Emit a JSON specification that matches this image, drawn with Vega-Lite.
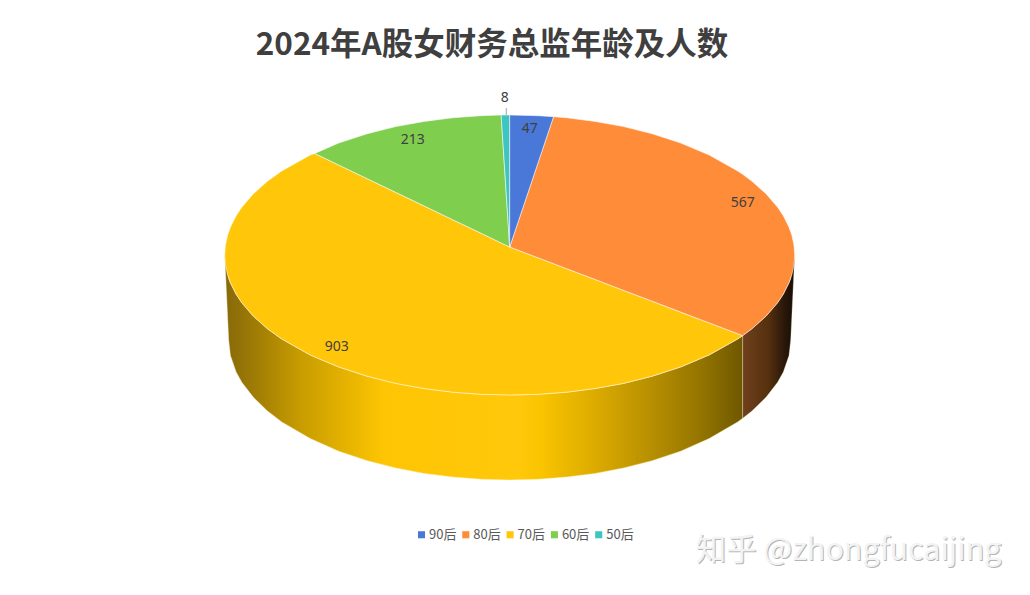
{
"$schema":"https://vega.github.io/schema/vega-lite/v6.json",
"width":1030,"height":595,"padding":0,"autosize":{"type":"none"},
"background":"#ffffff",
"config":{"view":{"stroke":null}},
"title":{"text":"2024年A股女财务总监年龄及人数","font":"Noto Sans CJK SC","fontSize":31.5,"fontWeight":"bold","color":"#3f3f3f","anchor":"middle","frame":"group","dx":-23,"offset":-77,"baseline":"middle"},
"datasets":{
"wallYellow":[{"x":-100,"y":0,"y2":0},{"x":-98.6,"y":-16.7,"y2":-60.7},{"x":-98,"y":-19.9,"y2":-71.7},{"x":-96,"y":-28,"y2":-83.5},{"x":-94,"y":-34.1,"y2":-90.9},{"x":-90,"y":-43.6,"y2":-101.5},{"x":-85,"y":-52.7,"y2":-111.4},{"x":-80,"y":-60,"y2":-119.2},{"x":-70,"y":-71.4,"y2":-131.1},{"x":-60,"y":-80,"y2":-140.1},{"x":-50,"y":-86.6,"y2":-146.9},{"x":-40,"y":-91.7,"y2":-152.1},{"x":-30,"y":-95.4,"y2":-156},{"x":-20,"y":-98,"y2":-158.6},{"x":-10,"y":-99.5,"y2":-160.2},{"x":0,"y":-100,"y2":-160.7},{"x":10,"y":-99.5,"y2":-160.2},{"x":20,"y":-98,"y2":-158.6},{"x":30,"y":-95.4,"y2":-156},{"x":40,"y":-91.7,"y2":-152.1},{"x":50,"y":-86.6,"y2":-146.9},{"x":60,"y":-80,"y2":-140.1},{"x":70,"y":-71.4,"y2":-131.1},{"x":80,"y":-60,"y2":-119.2},{"x":81.75,"y":-57.6,"y2":-116.6}],
"wallOrange":[{"x":81.75,"y":-57.6,"y2":-116.6},{"x":85,"y":-52.7,"y2":-111.4},{"x":90,"y":-43.6,"y2":-101.5},{"x":94,"y":-34.1,"y2":-90.9},{"x":96,"y":-28,"y2":-83.5},{"x":98,"y":-19.9,"y2":-71.7},{"x":98.6,"y":-16.7,"y2":-60.7},{"x":100,"y":0,"y2":0}],
"slices":[
{"age":"70后","x":-100,"y":0,"y2":0},{"age":"70后","x":-99.75,"y":7.06,"y2":-7.06},{"age":"70后","x":-99,"y":14.1,"y2":-14.1},{"age":"70后","x":-98,"y":19.9,"y2":-19.9},{"age":"70后","x":-96,"y":28,"y2":-28},{"age":"70后","x":-94,"y":34.1,"y2":-34.1},{"age":"70后","x":-90,"y":43.6,"y2":-43.6},{"age":"70后","x":-85,"y":52.7,"y2":-52.7},{"age":"70后","x":-80,"y":60,"y2":-60},{"age":"70后","x":-70,"y":71.4,"y2":-71.4},{"age":"70后","x":-68.4,"y":72.5,"y2":-72.9},{"age":"70后","x":-60,"y":64.3,"y2":-80},{"age":"70后","x":-50,"y":54.5,"y2":-86.6},{"age":"70后","x":-40,"y":44.76,"y2":-91.7},{"age":"70后","x":-30,"y":35,"y2":-95.4},{"age":"70后","x":-20,"y":25.2,"y2":-98},{"age":"70后","x":-10,"y":15.5,"y2":-99.5},{"age":"70后","x":0,"y":5.7,"y2":-100},{"age":"70后","x":10,"y":-2.04,"y2":-99.5},{"age":"70后","x":20,"y":-9.8,"y2":-98},{"age":"70后","x":30,"y":-17.5,"y2":-95.4},{"age":"70后","x":40,"y":-25.3,"y2":-91.7},{"age":"70后","x":50,"y":-33,"y2":-86.6},{"age":"70后","x":60,"y":-40.8,"y2":-80},{"age":"70后","x":70,"y":-48.5,"y2":-71.4},{"age":"70后","x":80,"y":-56.2,"y2":-60},{"age":"70后","x":81.75,"y":-57.6,"y2":-57.6},
{"age":"80后","x":0,"y":5.7,"y2":5.7},{"age":"80后","x":15.4,"y":98.8,"y2":-6.2},{"age":"80后","x":20,"y":98,"y2":-9.8},{"age":"80后","x":30,"y":95.4,"y2":-17.5},{"age":"80后","x":40,"y":91.7,"y2":-25.3},{"age":"80后","x":50,"y":86.6,"y2":-33},{"age":"80后","x":60,"y":80,"y2":-40.8},{"age":"80后","x":70,"y":71.4,"y2":-48.5},{"age":"80后","x":80,"y":60,"y2":-56.2},{"age":"80后","x":81.75,"y":57.6,"y2":-57.6},{"age":"80后","x":85,"y":52.7,"y2":-52.7},{"age":"80后","x":90,"y":43.6,"y2":-43.6},{"age":"80后","x":94,"y":34.1,"y2":-34.1},{"age":"80后","x":96,"y":28,"y2":-28},{"age":"80后","x":98,"y":19.9,"y2":-19.9},{"age":"80后","x":99,"y":14.1,"y2":-14.1},{"age":"80后","x":99.75,"y":7.06,"y2":-7.06},{"age":"80后","x":100,"y":0,"y2":0},
{"age":"60后","x":-68.4,"y":72.5,"y2":72.5},{"age":"60后","x":-60,"y":80,"y2":64.3},{"age":"60后","x":-50,"y":86.6,"y2":54.5},{"age":"60后","x":-40,"y":91.7,"y2":44.76},{"age":"60后","x":-30,"y":95.4,"y2":35},{"age":"60后","x":-20,"y":98,"y2":25.2},{"age":"60后","x":-10,"y":99.5,"y2":15.5},{"age":"60后","x":-3,"y":100,"y2":8.6},{"age":"60后","x":0,"y":5.7,"y2":5.7},
{"age":"50后","x":-3,"y":100,"y2":100},{"age":"50后","x":0,"y":100,"y2":5.7},
{"age":"90后","x":0,"y":100,"y2":5.7},{"age":"90后","x":10,"y":99.5,"y2":66.15},{"age":"90后","x":15.4,"y":98.8,"y2":98.8}
],
"labels":[{"age":"90后","count":47,"x":7,"y":91.4},{"age":"80后","count":567,"x":81.75,"y":38.6},{"age":"70后","count":903,"x":-60.7,"y":-64.3},{"age":"60后","count":213,"x":-34,"y":83.6},{"age":"50后","count":8,"x":-1.75,"y":113.6}],
"leader":[{"x":-1.2,"y":105,"y2":100}],
"mark":[{"x":118.9,"y":-211.5,"text":"知乎 @zhongfucaijing"}]
},
"encoding":{
"x":{"field":"x","type":"quantitative","axis":null,"scale":{"domain":[-178.84,182.56],"nice":false,"zero":false}},
"y":{"field":"y","type":"quantitative","axis":null,"scale":{"domain":[-242.86,182.14],"nice":false,"zero":false}}
},
"layer":[
{"data":{"name":"wallYellow"},"mark":{"type":"area","stroke":"#fff3c0","strokeWidth":0.7,"strokeOpacity":0.6,"fill":{"gradient":"linear","x1":0,"y1":0,"x2":1,"y2":0,"stops":[{"offset":0,"color":"#86690a"},{"offset":0.07,"color":"#a48004"},{"offset":0.145,"color":"#c79c00"},{"offset":0.24,"color":"#e7b400"},{"offset":0.305,"color":"#fdc503"},{"offset":0.57,"color":"#ffc80a"},{"offset":0.61,"color":"#fac400"},{"offset":0.724,"color":"#d9a900"},{"offset":0.82,"color":"#b89000"},{"offset":0.917,"color":"#957500"},{"offset":1,"color":"#6e5800"}]}},"encoding":{"y2":{"field":"y2"}}},
{"data":{"name":"wallOrange"},"mark":{"type":"area","stroke":"#fff3c0","strokeWidth":0.7,"strokeOpacity":0.4,"fill":{"gradient":"linear","x1":0,"y1":0,"x2":1,"y2":0,"stops":[{"offset":0,"color":"#6f401c"},{"offset":0.5,"color":"#55300f"},{"offset":0.8,"color":"#2a170a"},{"offset":1,"color":"#180d05"}]}},"encoding":{"y2":{"field":"y2"}}},
{"data":{"name":"slices"},"mark":{"type":"area","stroke":"#ffffff","strokeWidth":0.9,"strokeOpacity":0.6},"encoding":{"y2":{"field":"y2"},"color":{"field":"age","type":"nominal","scale":{"domain":["90后","80后","70后","60后","50后"],"range":["#4a78d8","#ff8c38","#ffc60a","#7fce4e","#3ec5c0"]},"legend":{"orient":"none","legendX":415,"legendY":528,"direction":"horizontal","columns":5,"title":null,"symbolType":"square","symbolSize":50,"symbolStrokeWidth":0,"labelFont":"Noto Sans CJK SC","labelFontSize":13,"labelColor":"#595959","labelOffset":1,"columnPadding":2.3}}}},
{"data":{"name":"leader"},"mark":{"type":"rule","color":"#a6a6a6","strokeWidth":1},"encoding":{"y2":{"field":"y2"}}},
{"data":{"name":"labels"},"mark":{"type":"text","font":"Noto Sans","fontSize":14,"color":"#404040","align":"center","baseline":"middle","dy":2},"encoding":{"text":{"field":"count","type":"quantitative"}}},
{"data":{"name":"mark"},"mark":{"type":"text","font":"Noto Sans CJK SC","fontSize":30.5,"color":"#b5b5b5","align":"center","baseline":"middle","dx":1,"dy":1},"encoding":{"text":{"field":"text"}}},
{"data":{"name":"mark"},"mark":{"type":"text","font":"Noto Sans CJK SC","fontSize":30.5,"color":"#f3f3f3","align":"center","baseline":"middle"},"encoding":{"text":{"field":"text"}}}
]
}
